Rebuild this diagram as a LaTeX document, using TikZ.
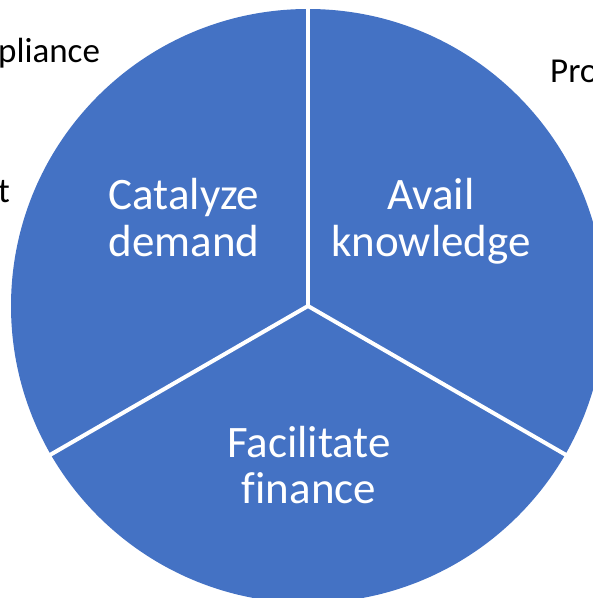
\documentclass[tikz,border=0pt]{standalone}
\usepackage{fontspec}
\setmainfont[Ligatures=NoCommon]{Carlito}
\usetikzlibrary{calc}
\definecolor{pieblue}{HTML}{4472C4}
\begin{document}
\begin{tikzpicture}[x=1pt,y=1pt,
  wlabel/.style={text=white,inner sep=0pt,anchor=base,font=\fontsize{45}{47}\selectfont},
  blabel/.style={text=black,inner sep=0pt,anchor=base west,font=\fontsize{35}{40}\selectfont},
  divider/.style={white,line width=4pt}]
\useasboundingbox (0,0) rectangle (593,598);
% partially hidden labels behind the pie
\node[blabel] (l1) at (-2,535) {pliance};
\node[blabel] (l2) at (-2,395) {t};
\node[blabel] (l3) at (550,515) {Pro};
% pie
\coordinate (c) at (308,292);
\fill[pieblue] (c) circle[radius=297];
\coordinate (e1) at ($(c)+(90:299)$);
\coordinate (e2) at ($(c)+(210:299)$);
\coordinate (e3) at ($(c)+(330:299)$);
\draw[divider] (c) -- (e1);
\draw[divider] (c) -- (e2);
\draw[divider] (c) -- (e3);
% labels
\node[wlabel] (a1) at (184,388) {Catalyze};
\node[wlabel] (a2) at (184,341) {demand};
\node[wlabel] (b1) at (431,388) {Avail};
\node[wlabel] (b2) at (431,341) {knowledge};
\node[wlabel] (f1) at (309,140) {Facilitate};
\node[wlabel] (f2) at (309,94) {finance};
\end{tikzpicture}
\end{document}
